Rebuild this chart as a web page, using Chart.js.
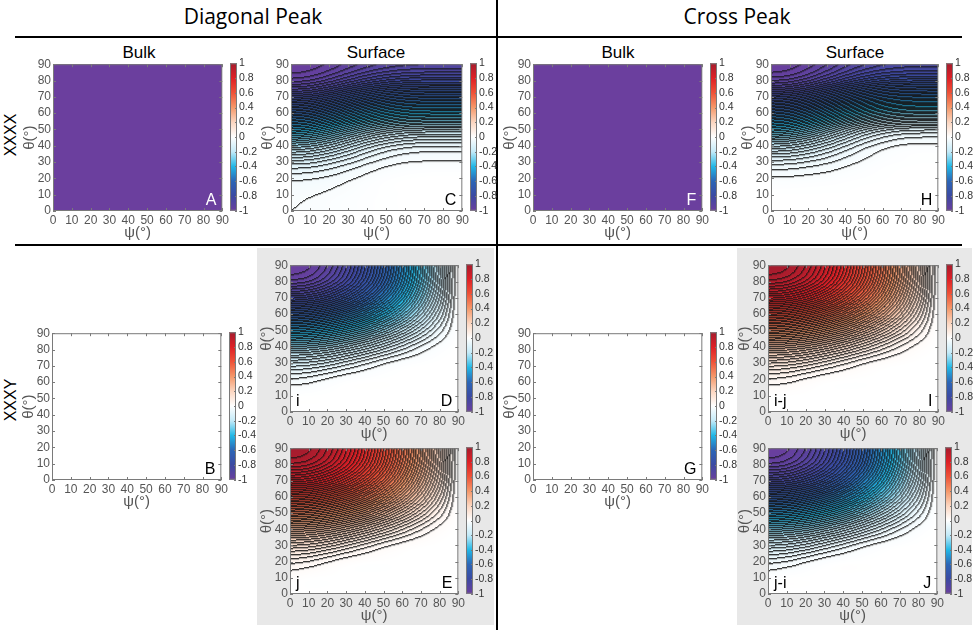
<!DOCTYPE html>
<html>
<head>
<meta charset="utf-8">
<title>Diagonal Peak / Cross Peak</title>
<script src="https://cdn.jsdelivr.net/npm/chart.js@4.4.1/dist/chart.umd.min.js"></script>
<style>
body { margin:0; background:#fff; width:977px; height:630px; position:relative; overflow:hidden; font-family:'Liberation Sans', Arial, sans-serif; }
.abs { position:absolute; }
.hd { font-family:'Open Sans', sans-serif; font-size:21px; color:#000; transform:translate(-50%,-50%); white-space:nowrap; }
.sub { font-size:17px; color:#000; transform:translate(-50%,-50%); white-space:nowrap; }
.row { font-size:16px; color:#000; transform:translate(-50%,-50%) rotate(-90deg); white-space:nowrap; }
</style>
</head>
<body>
<script>
// axis ticks
var psiTicks = [0, 10, 20, 30, 40, 50, 60, 70, 80, 90];
var thetaTicks = [0, 10, 20, 30, 40, 50, 60, 70, 80, 90];
var cbarTicks = [-1, -0.8, -0.6, -0.4, -0.2, 0, 0.2, 0.4, 0.6, 0.8, 1];

// grid where the maps were read: columns psi, rows theta (0 -> 90)
var gridPsi = [0, 10, 20, 30, 40, 50, 60, 70, 80, 90];
var gridTheta = [0, 10, 20, 30, 40, 50, 60, 70, 80, 90];
var levelStep = 0.02;

// Diagonal peak, XXXX, bulk
var valsA = [
  [-1,-1,-1,-1,-1,-1,-1,-1,-1,-1],
  [-1,-1,-1,-1,-1,-1,-1,-1,-1,-1],
  [-1,-1,-1,-1,-1,-1,-1,-1,-1,-1],
  [-1,-1,-1,-1,-1,-1,-1,-1,-1,-1],
  [-1,-1,-1,-1,-1,-1,-1,-1,-1,-1],
  [-1,-1,-1,-1,-1,-1,-1,-1,-1,-1],
  [-1,-1,-1,-1,-1,-1,-1,-1,-1,-1],
  [-1,-1,-1,-1,-1,-1,-1,-1,-1,-1],
  [-1,-1,-1,-1,-1,-1,-1,-1,-1,-1],
  [-1,-1,-1,-1,-1,-1,-1,-1,-1,-1]
];
// Diagonal peak, XXXX, surface
var valsC = [
  [-0.0199,-0.018,-0.014,-0.010,-0.006,-0.003,-0.001,0,0,0],
  [-0.025,-0.022,-0.017,-0.012,-0.007,-0.003,-0.001,0,0,0],
  [-0.047,-0.044,-0.036,-0.025,-0.014,-0.006,-0.002,0,0,0],
  [-0.115,-0.109,-0.091,-0.069,-0.047,-0.031,-0.022,-0.019,-0.018,-0.018],
  [-0.242,-0.230,-0.199,-0.158,-0.118,-0.089,-0.073,-0.066,-0.065,-0.065],
  [-0.420,-0.405,-0.364,-0.310,-0.259,-0.222,-0.200,-0.192,-0.190,-0.190],
  [-0.625,-0.610,-0.570,-0.518,-0.468,-0.431,-0.410,-0.402,-0.400,-0.400],
  [-0.815,-0.802,-0.767,-0.722,-0.679,-0.647,-0.629,-0.622,-0.620,-0.620],
  [-0.951,-0.941,-0.914,-0.879,-0.846,-0.821,-0.807,-0.801,-0.800,-0.800],
  [-1.000,-0.993,-0.976,-0.952,-0.930,-0.914,-0.904,-0.901,-0.900,-0.900]
];
// Diagonal peak, XXXY, bulk
var valsB = [
  [0,0,0,0,0,0,0,0,0,0],
  [0,0,0,0,0,0,0,0,0,0],
  [0,0,0,0,0,0,0,0,0,0],
  [0,0,0,0,0,0,0,0,0,0],
  [0,0,0,0,0,0,0,0,0,0],
  [0,0,0,0,0,0,0,0,0,0],
  [0,0,0,0,0,0,0,0,0,0],
  [0,0,0,0,0,0,0,0,0,0],
  [0,0,0,0,0,0,0,0,0,0],
  [0,0,0,0,0,0,0,0,0,0]
];
// Diagonal peak, XXXY, surface, mode i
var valsD = [
  [0,0,0,0,0,0,0,0,0,0],
  [-0.002,-0.001,0,0,0,0,0,0,0,0],
  [-0.040,-0.033,-0.019,-0.007,-0.002,0,0,0,0,0],
  [-0.125,-0.118,-0.100,-0.074,-0.048,-0.025,-0.010,-0.003,0,0],
  [-0.266,-0.258,-0.238,-0.205,-0.165,-0.120,-0.077,-0.039,-0.012,0],
  [-0.450,-0.441,-0.416,-0.375,-0.322,-0.258,-0.188,-0.117,-0.050,0],
  [-0.650,-0.639,-0.607,-0.556,-0.487,-0.403,-0.308,-0.204,-0.098,0],
  [-0.830,-0.817,-0.779,-0.717,-0.633,-0.529,-0.410,-0.278,-0.140,0],
  [-0.955,-0.941,-0.897,-0.827,-0.731,-0.613,-0.477,-0.326,-0.165,0],
  [-1.000,-0.985,-0.940,-0.866,-0.766,-0.643,-0.500,-0.342,-0.174,0]
];
// Diagonal peak, XXXY, surface, mode j
var valsE = [
  [0,0,0,0,0,0,0,0,0,0],
  [0.007,0.001,0,0,0,0,0,0,0,0],
  [0.050,0.041,0.024,0.009,0.002,0,0,0,0,0],
  [0.144,0.136,0.115,0.085,0.055,0.029,0.012,0.003,0,0],
  [0.290,0.282,0.260,0.224,0.180,0.131,0.084,0.043,0.013,0],
  [0.474,0.465,0.439,0.396,0.340,0.272,0.198,0.123,0.053,0],
  [0.668,0.658,0.625,0.572,0.501,0.415,0.317,0.210,0.101,0],
  [0.840,0.827,0.788,0.726,0.641,0.535,0.415,0.281,0.142,0],
  [0.958,0.944,0.900,0.829,0.733,0.615,0.478,0.327,0.165,0],
  [1.000,0.985,0.940,0.866,0.766,0.643,0.500,0.342,0.174,0]
];
// Cross peak, XXXX, bulk
var valsF = [
  [-1,-1,-1,-1,-1,-1,-1,-1,-1,-1],
  [-1,-1,-1,-1,-1,-1,-1,-1,-1,-1],
  [-1,-1,-1,-1,-1,-1,-1,-1,-1,-1],
  [-1,-1,-1,-1,-1,-1,-1,-1,-1,-1],
  [-1,-1,-1,-1,-1,-1,-1,-1,-1,-1],
  [-1,-1,-1,-1,-1,-1,-1,-1,-1,-1],
  [-1,-1,-1,-1,-1,-1,-1,-1,-1,-1],
  [-1,-1,-1,-1,-1,-1,-1,-1,-1,-1],
  [-1,-1,-1,-1,-1,-1,-1,-1,-1,-1],
  [-1,-1,-1,-1,-1,-1,-1,-1,-1,-1]
];
// Cross peak, XXXX, surface
var valsH = [
  [0,0,0,0,0,0,0,0,0,0],
  [-0.001,-0.001,-0.001,-0.001,-0.001,0,0,0,0,0],
  [-0.018,-0.017,-0.014,-0.011,-0.007,-0.004,-0.002,0,0,0],
  [-0.074,-0.071,-0.060,-0.046,-0.030,-0.017,-0.008,-0.004,-0.002,-0.002],
  [-0.191,-0.182,-0.156,-0.121,-0.084,-0.052,-0.031,-0.019,-0.015,-0.015],
  [-0.368,-0.354,-0.314,-0.258,-0.199,-0.149,-0.115,-0.097,-0.091,-0.090],
  [-0.583,-0.568,-0.528,-0.471,-0.411,-0.360,-0.325,-0.307,-0.301,-0.300],
  [-0.792,-0.779,-0.745,-0.696,-0.645,-0.602,-0.571,-0.556,-0.551,-0.550],
  [-0.944,-0.934,-0.906,-0.867,-0.826,-0.791,-0.767,-0.755,-0.750,-0.750],
  [-1.000,-0.992,-0.971,-0.941,-0.909,-0.882,-0.863,-0.854,-0.850,-0.850]
];
// Cross peak, XXXY, bulk
var valsG = [
  [0,0,0,0,0,0,0,0,0,0],
  [0,0,0,0,0,0,0,0,0,0],
  [0,0,0,0,0,0,0,0,0,0],
  [0,0,0,0,0,0,0,0,0,0],
  [0,0,0,0,0,0,0,0,0,0],
  [0,0,0,0,0,0,0,0,0,0],
  [0,0,0,0,0,0,0,0,0,0],
  [0,0,0,0,0,0,0,0,0,0],
  [0,0,0,0,0,0,0,0,0,0],
  [0,0,0,0,0,0,0,0,0,0]
];
// Cross peak, XXXY, surface, i-j
var valsI = [
  [0,0,0,0,0,0,0,0,0,0],
  [0.002,0.001,0,0,0,0,0,0,0,0],
  [0.040,0.033,0.019,0.007,0.002,0,0,0,0,0],
  [0.125,0.118,0.100,0.074,0.048,0.025,0.010,0.003,0,0],
  [0.266,0.258,0.238,0.205,0.165,0.120,0.077,0.039,0.012,0],
  [0.450,0.441,0.416,0.375,0.322,0.258,0.188,0.117,0.050,0],
  [0.650,0.639,0.607,0.556,0.487,0.403,0.308,0.204,0.098,0],
  [0.830,0.817,0.779,0.717,0.633,0.529,0.410,0.278,0.140,0],
  [0.955,0.941,0.897,0.827,0.731,0.613,0.477,0.326,0.165,0],
  [1.000,0.985,0.940,0.866,0.766,0.643,0.500,0.342,0.174,0]
];
// Cross peak, XXXY, surface, j-i
var valsJ = [
  [0,0,0,0,0,0,0,0,0,0],
  [-0.007,-0.001,0,0,0,0,0,0,0,0],
  [-0.050,-0.041,-0.024,-0.009,-0.002,0,0,0,0,0],
  [-0.144,-0.136,-0.115,-0.085,-0.055,-0.029,-0.012,-0.003,0,0],
  [-0.290,-0.282,-0.260,-0.224,-0.180,-0.131,-0.084,-0.043,-0.013,0],
  [-0.474,-0.465,-0.439,-0.396,-0.340,-0.272,-0.198,-0.123,-0.053,0],
  [-0.668,-0.658,-0.625,-0.572,-0.501,-0.415,-0.317,-0.210,-0.101,0],
  [-0.840,-0.827,-0.788,-0.726,-0.641,-0.535,-0.415,-0.281,-0.142,0],
  [-0.958,-0.944,-0.900,-0.829,-0.733,-0.615,-0.478,-0.327,-0.165,0],
  [-1.000,-0.985,-0.940,-0.866,-0.766,-0.643,-0.500,-0.342,-0.174,0]
];

// colour map (value, r, g, b)
var cmapStops = [
  [-1.0, 107, 63, 158],
  [-0.8, 60, 74, 162],
  [-0.6, 44, 102, 182],
  [-0.4, 34, 184, 230],
  [-0.2, 196, 234, 248],
  [0.0, 255, 255, 255],
  [0.2, 252, 214, 192],
  [0.4, 245, 152, 106],
  [0.6, 238, 82, 56],
  [0.8, 222, 32, 38],
  [1.0, 165, 28, 46]
];

var FONT = "'Liberation Sans', Arial, sans-serif";
Chart.defaults.font.family = FONT;

function cmap(v) {
  if (v <= cmapStops[0][0]) return cmapStops[0].slice(1);
  for (var i = 1; i < cmapStops.length; i++) {
    var b = cmapStops[i];
    if (v <= b[0]) {
      var a = cmapStops[i - 1], t = (v - a[0]) / (b[0] - a[0]);
      return [a[1] + (b[1] - a[1]) * t, a[2] + (b[2] - a[2]) * t, a[3] + (b[3] - a[3]) * t];
    }
  }
  return cmapStops[cmapStops.length - 1].slice(1);
}

function cr(p0, p1, p2, p3, t) {
  return 0.5 * (2 * p1 + (-p0 + p2) * t + (2 * p0 - 5 * p1 + 4 * p2 - p3) * t * t + (-p0 + 3 * p1 - 3 * p2 + p3) * t * t * t);
}

// smooth lookup inside the read grid
function sampleGrid(g, ps, th) {
  var nx = gridPsi.length, ny = gridTheta.length;
  var gx = (ps - gridPsi[0]) / (gridPsi[1] - gridPsi[0]);
  var gy = (th - gridTheta[0]) / (gridTheta[1] - gridTheta[0]);
  gx = Math.max(0, Math.min(nx - 1, gx));
  gy = Math.max(0, Math.min(ny - 1, gy));
  var i = Math.min(Math.floor(gx), nx - 2), j = Math.min(Math.floor(gy), ny - 2);
  var tx = gx - i, ty = gy - j;
  function ci(n) { return Math.max(0, Math.min(nx - 1, n)); }
  function cj(n) { return Math.max(0, Math.min(ny - 1, n)); }
  var col = [];
  for (var m = -1; m <= 2; m++) {
    var r = g[cj(j + m)];
    col.push(cr(r[ci(i - 1)], r[ci(i)], r[ci(i + 1)], r[ci(i + 2)], tx));
  }
  return cr(col[0], col[1], col[2], col[3], ty);
}

var fieldPlugin = {
  id: 'field',
  beforeDatasetsDraw: function (chart, args, o) {
    var a = chart.chartArea, xs = chart.scales.x, ys = chart.scales.y, ctx = chart.ctx;
    var dpr = chart.currentDevicePixelRatio || 1;
    var w = Math.round((a.right - a.left) * dpr), h = Math.round((a.bottom - a.top) * dpr);
    var off = document.createElement('canvas');
    off.width = w; off.height = h;
    var octx = off.getContext('2d');
    var img = octx.createImageData(w, h), d = img.data;
    var lev = new Int32Array(w * h);
    var i, j, k;
    for (j = 0; j < h; j++) {
      var th = ys.getValueForPixel(a.top + (j + 0.5) / dpr);
      for (i = 0; i < w; i++) {
        var ps = xs.getValueForPixel(a.left + (i + 0.5) / dpr);
        var v = Math.max(-1, Math.min(1, sampleGrid(o.grid, ps, th)));
        k = j * w + i;
        lev[k] = Math.trunc(v / levelStep + (v < 0 ? 1e-6 : -1e-6));
        var c = cmap(v);
        d[k * 4] = c[0]; d[k * 4 + 1] = c[1]; d[k * 4 + 2] = c[2]; d[k * 4 + 3] = 255;
      }
    }
    // contour lines where the level changes (full pixel + light neighbour)
    for (j = 0; j < h; j++) {
      for (i = 0; i < w; i++) {
        k = j * w + i;
        var main = (i < w - 1 && lev[k] !== lev[k + 1]) || (j < h - 1 && lev[k] !== lev[k + w]);
        var side = (i > 0 && lev[k] !== lev[k - 1]) || (j > 0 && lev[k] !== lev[k - w]);
        var f = main ? 0.1 : (side ? 0.72 : 1);
        if (f < 1) {
          d[k * 4] = 20 + (d[k * 4] - 20) * f;
          d[k * 4 + 1] = 20 + (d[k * 4 + 1] - 20) * f;
          d[k * 4 + 2] = 20 + (d[k * 4 + 2] - 20) * f;
        }
      }
    }
    octx.putImageData(img, 0, 0);
    ctx.drawImage(off, a.left, a.top, a.right - a.left, a.bottom - a.top);
  },
  afterDraw: function (chart, args, o) {
    var a = chart.chartArea, xs = chart.scales.x, ys = chart.scales.y, ctx = chart.ctx;
    ctx.save();
    ctx.strokeStyle = '#7a7a7a';
    ctx.lineWidth = 1;
    ctx.strokeRect(a.left + 0.5, a.top + 0.5, a.right - a.left - 1, a.bottom - a.top - 1);
    ctx.beginPath();
    psiTicks.forEach(function (t) {
      var px = Math.round(xs.getPixelForValue(t)) + 0.5;
      ctx.moveTo(px, a.bottom); ctx.lineTo(px, a.bottom - 3);
      ctx.moveTo(px, a.top); ctx.lineTo(px, a.top + 3);
    });
    thetaTicks.forEach(function (t) {
      var py = Math.round(ys.getPixelForValue(t)) + 0.5;
      ctx.moveTo(a.left, py); ctx.lineTo(a.left + 3, py);
      ctx.moveTo(a.right, py); ctx.lineTo(a.right - 3, py);
    });
    ctx.stroke();
    // axis titles
    ctx.fillStyle = '#555';
    ctx.font = '15px ' + FONT;
    ctx.textAlign = 'center';
    ctx.textBaseline = 'middle';
    ctx.fillText('ψ(°)', (a.left + a.right) / 2, a.bottom + 22);
    ctx.save();
    ctx.translate(a.left - 23, (a.top + a.bottom) / 2);
    ctx.rotate(-Math.PI / 2);
    ctx.fillText('θ(°)', 0, 0);
    ctx.restore();
    // panel letters
    ctx.font = '16px ' + FONT;
    ctx.textBaseline = 'alphabetic';
    ctx.fillStyle = o.letterColor;
    ctx.textAlign = 'right';
    ctx.fillText(o.letter, a.right - 6, a.bottom - 6);
    if (o.tag) {
      ctx.fillStyle = '#000';
      ctx.textAlign = 'left';
      ctx.fillText(o.tag, a.left + 6, a.bottom - 6);
    }
    ctx.restore();
  }
};

var cbarPlugin = {
  id: 'cbarBox',
  afterDraw: function (chart) {
    var a = chart.chartArea, ys = chart.scales.y, ctx = chart.ctx;
    ctx.save();
    ctx.strokeStyle = '#7a7a7a';
    ctx.lineWidth = 1;
    ctx.strokeRect(a.left + 0.5, a.top + 0.5, a.right - a.left - 1, a.bottom - a.top - 1);
    ctx.beginPath();
    cbarTicks.forEach(function (t) {
      var py = Math.round(ys.getPixelForValue(t)) + 0.5;
      ctx.moveTo(a.right, py); ctx.lineTo(a.right - 2, py);
    });
    ctx.stroke();
    ctx.restore();
  }
};

function addBox(l, t, w, h, bg) {
  var d = document.createElement('div');
  d.className = 'abs';
  d.style.left = l + 'px'; d.style.top = t + 'px';
  d.style.width = w + 'px'; d.style.height = h + 'px';
  d.style.background = bg;
  document.body.appendChild(d);
}

function addText(cls, txt, x, y) {
  var d = document.createElement('div');
  d.className = 'abs ' + cls;
  d.style.left = x + 'px'; d.style.top = y + 'px';
  d.textContent = txt;
  document.body.appendChild(d);
}

function addCanvas(l, t, w, h) {
  var d = document.createElement('div');
  d.className = 'abs';
  d.style.left = l + 'px'; d.style.top = t + 'px';
  var c = document.createElement('canvas');
  c.width = w; c.height = h;
  c.style.width = w + 'px'; c.style.height = h + 'px';
  d.appendChild(c);
  document.body.appendChild(d);
  return c;
}

var tickFont = { size: 12 };

function makePanel(p) {
  var cv = addCanvas(p.x - 34, p.y - 8, p.w + 42, p.h + 40);
  new Chart(cv, {
    type: 'scatter',
    data: { datasets: [{ data: [] }] },
    options: {
      responsive: false,
      animation: false,
      events: [],
      layout: { padding: { left: 0, top: 8, right: 8, bottom: 0 } },
      plugins: {
        legend: { display: false },
        tooltip: { enabled: false },
        field: { grid: p.vals, letter: p.letter, letterColor: p.lc || '#000', tag: p.tag || '' }
      },
      scales: {
        x: {
          type: 'linear', min: 0, max: 90,
          afterBuildTicks: function (s) { s.ticks = psiTicks.map(function (v) { return { value: v }; }); },
          afterFit: function (s) { s.height = 32; },
          grid: { display: false, drawTicks: false },
          border: { display: false },
          ticks: { font: tickFont, color: '#555', padding: 2, maxRotation: 0, autoSkip: false }
        },
        y: {
          type: 'linear', min: 0, max: 90,
          afterBuildTicks: function (s) { s.ticks = thetaTicks.map(function (v) { return { value: v }; }); },
          afterFit: function (s) { s.width = 34; },
          grid: { display: false, drawTicks: false },
          border: { display: false },
          ticks: { font: tickFont, color: '#555', padding: 2, autoSkip: false }
        }
      }
    },
    plugins: [fieldPlugin]
  });
}

function cbarGradient(c) {
  var chart = c.chart, a = chart.chartArea;
  if (!a) return null;
  var ys = chart.scales.y;
  var g = chart.ctx.createLinearGradient(0, ys.getPixelForValue(-1), 0, ys.getPixelForValue(1));
  cmapStops.forEach(function (s) {
    g.addColorStop((s[0] + 1) / 2, 'rgb(' + s[1] + ',' + s[2] + ',' + s[3] + ')');
  });
  return g;
}

function makeCbar(p) {
  var cv = addCanvas(p.x + p.w + 7, p.y - 8, 7 + 26, p.h + 16);
  new Chart(cv, {
    type: 'bar',
    data: {
      labels: ['c'],
      datasets: [{ data: [[-1, 1]], backgroundColor: cbarGradient, borderWidth: 0, barPercentage: 1, categoryPercentage: 1 }]
    },
    options: {
      responsive: false,
      animation: false,
      events: [],
      layout: { padding: { left: 0, top: 8, right: 0, bottom: 8 } },
      plugins: { legend: { display: false }, tooltip: { enabled: false } },
      scales: {
        x: { display: false },
        y: {
          position: 'right', min: -1, max: 1,
          afterBuildTicks: function (s) { s.ticks = cbarTicks.map(function (v) { return { value: v }; }); },
          afterFit: function (s) { s.width = 26; },
          grid: { display: false, drawTicks: false },
          border: { display: false },
          ticks: {
            font: { size: 10.5 }, color: '#333', padding: 2, autoSkip: false,
            callback: function (v) { var r = Math.round(v * 10) / 10; return r === 0 ? '0' : String(r); }
          }
        }
      }
    },
    plugins: [cbarPlugin]
  });
}

// background boxes behind the i / j panels
addBox(257, 248, 237, 377, '#e8e8e8');
addBox(737, 248, 235, 377, '#e8e8e8');
// frame lines
addBox(15, 36, 947, 2, '#000');
addBox(15, 244, 947, 2, '#000');
addBox(496, 0, 2, 630, '#000');

addText('hd', 'Diagonal Peak', 253, 16);
addText('hd', 'Cross Peak', 737, 16);
addText('sub', 'Bulk', 139, 53);
addText('sub', 'Surface', 376, 53);
addText('sub', 'Bulk', 618, 53);
addText('sub', 'Surface', 855, 53);
addText('row', 'XXXX', 11, 135);
addText('row', 'XXXY', 11, 400);

var panels = [
  { vals: valsA, x: 53, y: 63, w: 170, h: 148, letter: 'A', lc: '#fff' },
  { vals: valsC, x: 291, y: 63, w: 172, h: 148, letter: 'C' },
  { vals: valsF, x: 533, y: 63, w: 170, h: 148, letter: 'F', lc: '#fff' },
  { vals: valsH, x: 771, y: 63, w: 168, h: 148, letter: 'H' },
  { vals: valsB, x: 52, y: 332, w: 170, h: 148, letter: 'B' },
  { vals: valsD, x: 290, y: 264, w: 169, h: 148, letter: 'D', tag: 'i' },
  { vals: valsE, x: 290, y: 447, w: 169, h: 147, letter: 'E', tag: 'j' },
  { vals: valsG, x: 533, y: 332, w: 170, h: 148, letter: 'G' },
  { vals: valsI, x: 768, y: 264, w: 171, h: 148, letter: 'I', tag: 'i-j' },
  { vals: valsJ, x: 768, y: 447, w: 170, h: 147, letter: 'J', tag: 'j-i' }
];

panels.forEach(function (p) {
  makePanel(p);
  makeCbar(p);
});
</script>
</body>
</html>
